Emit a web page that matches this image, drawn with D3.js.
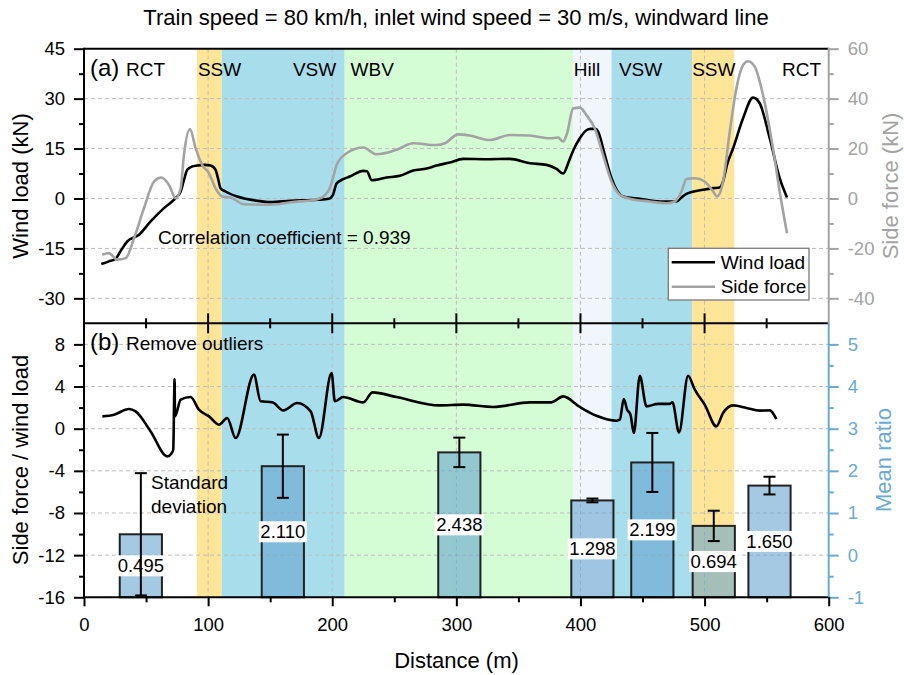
<!DOCTYPE html>
<html>
<head>
<meta charset="utf-8">
<script src="https://cdn.jsdelivr.net/npm/d3@7"></script>
<style>
  body { margin: 0; background: #fff; }
  svg { display: block; }
  text { font-family: "Liberation Sans", Arial, sans-serif; }
</style>
</head>
<body>
<svg id="chart" width="904" height="675"></svg>
<script>
// ---- Data ---------------------------------------------------------------
// Wind load along the line [distance (m), kN] (left axis, panel a)
const windLoad = [
  [13.9,-19.7],[20,-18.9],[25.5,-18.1],[30,-15.5],[34.9,-12.9],[44.3,-10.9],[53.7,-6.9],
  [64.4,-2.9],[73.8,0.1],[77.9,2.1],[80.5,5.5],[83.2,8.6],[87,9.6],[91.3,9.9],[97,10.1],
  [102,9.9],[106,8.6],[108,6],[110,3.1],[114,2.1],[123.5,0.6],[139.6,-0.7],[150.3,-1.1],
  [166.4,-0.7],[188,-0.4],[197.3,-0.1],[200.5,1.0],[203.5,4.5],[208.8,5.8],[214.2,6.6],
  [225,8.3],[228,8.2],[231.7,5.5],[243.8,6.3],[254.5,6.8],[265.2,8.4],[276,9],[284,9.9],
  [294.8,10.8],[305.5,11.9],[324.3,11.8],[343,11.9],[359.2,10.6],[372.6,10.1],[380.7,8.9],
  [386,7.5],[391,11.5],[394.6,14.8],[399.5,18.1],[404.8,20.5],[408,20.9],[412,20.9],[414.2,20.1],
  [419.6,13.1],[425,6.1],[434.4,0.6],[447.8,-0.1],[463.9,-0.9],[477.3,-0.9],[481.4,0.3],
  [485.4,1.4],[498.8,2.6],[506.9,3.1],[512.2,3.3],[514.9,5.1],[518,10],[523,15.1],[531,24.1],
  [539,30.3],[544.4,28.6],[552.5,18.1],[560.5,6.1],[566.4,0.3]
];

// Side force along the line [distance (m), kN] (right axis, panel a)
const sideForce = [
  [14.7,-22.5],[20.1,-21.9],[26.8,-24.5],[33.6,-23.9],[40.3,-15.9],[48.3,-3.9],[56.4,6.8],
  [62.3,8.4],[68.5,5.4],[73.8,0.1],[77.9,4.1],[80.5,17.4],[85.4,27.8],[90,20.1],[95.3,13.4],
  [100.7,10.1],[106,4.1],[111.4,0.8],[118.1,0.4],[128.9,-2.3],[150.3,-2.5],[166.4,-1.5],
  [188,-0.3],[194.6,1.5],[198,4.1],[201.3,9.4],[203.5,13.4],[211.6,18.1],[225,20.4],
  [235.7,17.7],[251.8,19.5],[265.2,22.1],[284,21.4],[290.7,22.1],[301.5,25.7],[310.9,25.2],
  [327,23.4],[343.1,25.4],[359.2,25.2],[375.3,24.1],[382,24.4],[386,22.8],[389.2,26.1],
  [394.1,36.1],[399.5,36.4],[404.8,33.4],[411.5,28.1],[418.2,17.4],[425,6.8],[431.7,1.5],
  [439.7,-0.1],[455.8,-1.2],[469.3,-1.9],[476,-1.2],[481.4,2.8],[485.4,7.8],[492.1,8.1],
  [500.1,6.8],[506.9,2.8],[510.1,0.8],[514.9,6.8],[520.3,26.8],[525.6,44.1],[531,53.4],
  [535,55.0],[540.4,52.8],[547.1,41.4],[555.1,20.1],[560.5,2.8],[566.4,-13.9]
];

// Side force / wind load with outliers removed (left axis, panel b)
const ratio = [
  [14.8,1.17],[24.2,1.33],[36.2,1.87],[41.6,1.64],[53.7,-0.26],[67.1,-2.63],[70.3,-2.37],
  [71.9,-2.0],[73,4.72],[73.3,1.17],[77.9,2.75],[85.9,3.0],[92.6,1.8],[100.7,1.17],
  [108.7,0.38],[115.4,1.01],[122.2,-0.89],[136.9,5.13],[142.3,2.6],[151.7,2.5],[160.5,1.74],
  [171.8,2.44],[182.6,1.64],[189.3,-0.89],[199.5,5.29],[202.1,2.6],[208.8,3.0],[225,2.5],
  [232.5,3.45],[251.8,3.0],[286.7,2.21],[305.5,2.28],[329.6,2.06],[359.2,2.5],[376.7,2.5],
  [386,3.07],[399.5,2.06],[412.9,1.23],[429,0.76],[431.7,0.85],[434.9,2.82],[437.6,1.8],
  [440.3,1.33],[443,-0.41],[447.8,5.03],[453.2,2.12],[462.5,2.35],[471.9,2.35],[474.1,2.5],
  [479.4,-0.35],[486.7,5.03],[492.1,3.7],[500.1,2.28],[509.5,0.22],[514.9,1.49],[523,2.21],
  [533.7,1.97],[544.4,1.71],[552.5,1.74],[557.8,0.92]
];

// Mean ratio per zone (right axis, panel b)
const barCenters = [45.8, 160.2, 302.4, 409.6, 457.9, 507.4, 552.3];
const barMeans   = [0.495, 2.110, 2.438, 1.298, 2.199, 0.694, 1.650];
const barSD      = [1.45, 0.75, 0.35, 0.045, 0.70, 0.36, 0.21];
const barWidth   = 34; // m

// Structural zones along the line
const zoneStart = [91, 111, 210, 394, 425, 490];
const zoneEnd   = [111, 210, 394, 425, 490, 524];
const zoneFill  = ["#fee598", "#a8deec", "#d5fdd5", "#f0f6fc", "#a8deec", "#fee598"];
const zoneLabels = ["RCT", "SSW", "VSW", "WBV", "Hill", "VSW", "SSW", "RCT"];
const zoneLabelAt = [33.8, 91.8, 168.3, 214.8, 394.6, 431, 490, 562.4];

// Ticks
const xMajor = [0, 100, 200, 300, 400, 500, 600];
const xMinor = [50, 150, 250, 350, 450, 550];
const windMajor = [-30, -15, 0, 15, 30, 45];
const windMinor = [-22.5, -7.5, 7.5, 22.5, 37.5];
const sideMajor = [-40, -20, 0, 20, 40, 60];
const sideMinor = [-30, -10, 10, 30, 50];
const ratioMajor = [-16, -12, -8, -4, 0, 4, 8];
const ratioMinor = [-14, -10, -6, -2, 2, 6];
const meanMajor = [-1, 0, 1, 2, 3, 4, 5];
const meanMinor = [-0.5, 0.5, 1.5, 2.5, 3.5, 4.5];

// ---- Layout -------------------------------------------------------------
const L = 84, R = 828.7, TOP = 48.7, MID = 323.3, BOT = 597.3;
const GRAY = "#a3a3a3", BLUE = "#6aaad4";
const svg = d3.select("#chart");

const x = d3.scaleLinear().domain([0, 600]).range([L, R]);
const yWind = d3.scaleLinear().domain([-37.5, 45]).range([MID, TOP]);
const ySide = d3.scaleLinear().domain([-50, 60]).range([MID, TOP]);
const yRatio = d3.scaleLinear().domain([-16, 10]).range([BOT, MID]);
const yMean = d3.scaleLinear().domain([-1, 5.5]).range([BOT, MID]);

// Zone backgrounds across both panels
svg.append("g").selectAll("rect").data(zoneStart).join("rect")
  .attr("x", (d) => x(d))
  .attr("width", (d, i) => x(zoneEnd[i]) - x(d))
  .attr("y", TOP).attr("height", BOT - TOP)
  .attr("fill", (d, i) => zoneFill[i]);

// Dashed grid
const grid = svg.append("g").attr("stroke", "#bdbdbd").attr("stroke-width", 1)
  .attr("stroke-dasharray", "4,3").attr("fill", "none");
xMajor.slice(1, -1).forEach(v => grid.append("line")
  .attr("x1", x(v)).attr("x2", x(v)).attr("y1", TOP).attr("y2", BOT));
windMajor.filter(v => v < 45).forEach(v => grid.append("line")
  .attr("x1", L).attr("x2", R).attr("y1", yWind(v)).attr("y2", yWind(v)));
ratioMajor.filter(v => v > -16).forEach(v => grid.append("line")
  .attr("x1", L).attr("x2", R).attr("y1", yRatio(v)).attr("y2", yRatio(v)));

// ---- Panel (b) bars -------------------------------------------------------
const bars = svg.append("g");
bars.selectAll("rect").data(barMeans).join("rect")
  .attr("x", (d, i) => x(barCenters[i] - barWidth / 2))
  .attr("width", x(barWidth) - x(0))
  .attr("y", (d) => yMean(d))
  .attr("height", (d) => yMean(-1) - yMean(d))
  .attr("fill", "rgb(100,162,207)").attr("fill-opacity", 0.58)
  .attr("stroke", "#222").attr("stroke-width", 2);

// value labels in the middle of each bar
const lbl = svg.append("g");
barMeans.forEach((v, i) => {
  const cx = x(barCenters[i]);
  const cy = yMean((v + -1) / 2);
  const t = lbl.append("text").attr("x", cx).attr("y", cy)
    .attr("text-anchor", "middle").attr("dy", "0.35em")
    .attr("font-size", 18.5).attr("fill", "#000").text(v.toFixed(3));
  const bb = t.node().getBBox();
  lbl.insert("rect", () => t.node())
    .attr("x", bb.x - 1.5).attr("y", cy - 10.5)
    .attr("width", bb.width + 3).attr("height", 21).attr("fill", "#fff");
});

// error bars
const err = svg.append("g").attr("stroke", "#000").attr("stroke-width", 2);
barMeans.forEach((v, i) => {
  const cx = x(barCenters[i]);
  const hi = yMean(v + barSD[i]), lo = yMean(v - barSD[i]);
  err.append("line").attr("x1", cx).attr("x2", cx).attr("y1", hi).attr("y2", lo);
  err.append("line").attr("x1", cx - 6).attr("x2", cx + 6).attr("y1", hi).attr("y2", hi);
  err.append("line").attr("x1", cx - 6).attr("x2", cx + 6).attr("y1", lo).attr("y2", lo);
});

// ---- Curves -------------------------------------------------------------
const curve = d3.curveMonotoneX;
svg.append("path").datum(windLoad)
  .attr("d", d3.line().x(d => x(d[0])).y(d => yWind(d[1])).curve(curve))
  .attr("fill", "none").attr("stroke", "#000").attr("stroke-width", 2.6);
svg.append("path").datum(sideForce)
  .attr("d", d3.line().x(d => x(d[0])).y(d => ySide(d[1])).curve(curve))
  .attr("fill", "none").attr("stroke", GRAY).attr("stroke-width", 2.6);
svg.append("path").datum(ratio)
  .attr("d", d3.line().x(d => x(d[0])).y(d => yRatio(d[1])).curve(curve))
  .attr("fill", "none").attr("stroke", "#000").attr("stroke-width", 2.6)
  .attr("stroke-linejoin", "round");

// ---- Axes ---------------------------------------------------------------
const fmt = d => String(d);
function styleAxis(g, color, size) {
  g.select(".domain").remove();
  g.selectAll("line").attr("stroke", color).attr("stroke-width", 2);
  g.selectAll("text").attr("fill", color).attr("font-size", size)
    .style("font-family", '"Liberation Sans", Arial, sans-serif');
}

// left axes
svg.append("g").attr("transform", `translate(${L},0)`)
  .call(d3.axisLeft(yWind).tickValues(windMajor).tickSize(10).tickPadding(9).tickFormat(fmt))
  .call(g => styleAxis(g, "#000", 18.5));
svg.append("g").attr("transform", `translate(${L},0)`)
  .call(d3.axisLeft(yWind).tickValues(windMinor).tickSize(5).tickFormat(""))
  .call(g => styleAxis(g, "#000", 18.5));
svg.append("g").attr("transform", `translate(${L},0)`)
  .call(d3.axisLeft(yRatio).tickValues(ratioMajor).tickSize(10).tickPadding(9).tickFormat(fmt))
  .call(g => styleAxis(g, "#000", 18.5));
svg.append("g").attr("transform", `translate(${L},0)`)
  .call(d3.axisLeft(yRatio).tickValues(ratioMinor).tickSize(5).tickFormat(""))
  .call(g => styleAxis(g, "#000", 18.5));

// right axes
svg.append("g").attr("transform", `translate(${R},0)`)
  .call(d3.axisRight(ySide).tickValues(sideMajor).tickSize(10).tickPadding(9).tickFormat(fmt))
  .call(g => styleAxis(g, GRAY, 18.5));
svg.append("g").attr("transform", `translate(${R},0)`)
  .call(d3.axisRight(ySide).tickValues(sideMinor).tickSize(5).tickFormat(""))
  .call(g => styleAxis(g, GRAY, 18.5));
svg.append("g").attr("transform", `translate(${R},0)`)
  .call(d3.axisRight(yMean).tickValues(meanMajor).tickSize(10).tickPadding(9).tickFormat(fmt))
  .call(g => styleAxis(g, BLUE, 18.5));
svg.append("g").attr("transform", `translate(${R},0)`)
  .call(d3.axisRight(yMean).tickValues(meanMinor).tickSize(5).tickFormat(""))
  .call(g => styleAxis(g, BLUE, 18.5));

// bottom axis
svg.append("g").attr("transform", `translate(0,${BOT})`)
  .call(d3.axisBottom(x).tickValues(xMajor).tickSize(9).tickPadding(12).tickFormat(fmt))
  .call(g => styleAxis(g, "#000", 18.5));
svg.append("g").attr("transform", `translate(0,${BOT})`)
  .call(d3.axisBottom(x).tickValues(xMinor).tickSize(5).tickFormat(""))
  .call(g => styleAxis(g, "#000", 18.5));

// ticks crossing the shared panel border
const midTicks = svg.append("g").attr("stroke", "#000").attr("stroke-width", 2);
xMajor.slice(1, -1).forEach(v => midTicks.append("line")
  .attr("x1", x(v)).attr("x2", x(v)).attr("y1", MID - 10).attr("y2", MID + 10));
xMinor.forEach(v => midTicks.append("line")
  .attr("x1", x(v)).attr("x2", x(v)).attr("y1", MID - 5).attr("y2", MID + 5));

// frame lines
const frame = svg.append("g").attr("stroke-width", 2).attr("fill", "none");
frame.append("line").attr("x1", L).attr("x2", R).attr("y1", TOP).attr("y2", TOP).attr("stroke", "#000");
frame.append("line").attr("x1", L).attr("x2", R).attr("y1", MID).attr("y2", MID).attr("stroke", "#000");
frame.append("line").attr("x1", L - 1).attr("x2", R + 1).attr("y1", BOT).attr("y2", BOT).attr("stroke", "#000");
frame.append("line").attr("x1", L).attr("x2", L).attr("y1", TOP - 1).attr("y2", BOT).attr("stroke", "#000");
frame.append("line").attr("x1", R).attr("x2", R).attr("y1", TOP - 1).attr("y2", MID).attr("stroke", GRAY);
frame.append("line").attr("x1", R).attr("x2", R).attr("y1", MID).attr("y2", BOT).attr("stroke", BLUE);

// ---- Text ---------------------------------------------------------------
const txt = (s, px, py, size, opts = {}) => {
  const t = svg.append("text").attr("x", px).attr("y", py).attr("font-size", size)
    .attr("fill", opts.fill || "#000").attr("text-anchor", opts.anchor || "start").text(s);
  if (opts.rotate) t.attr("transform", `rotate(-90,${px},${py})`);
  return t;
};

txt("Train speed = 80 km/h, inlet wind speed = 30 m/s, windward line", 456, 25, 22, { anchor: "middle" });

zoneLabels.forEach((s, i) => txt(s, x(zoneLabelAt[i]), 76, 19));
txt("(a)", 90, 76, 24);
txt("(b)", 90, 350, 24);
txt("Remove outliers", 126, 350, 19);
txt("Correlation coefficient = 0.939", 158, 244, 19);
txt("Standard", 151, 489, 19);
txt("deviation", 151, 512.7, 19);

txt("Wind load (kN)", 28, 186, 22, { anchor: "middle", rotate: true });
txt("Side force / wind load", 28, 460, 22, { anchor: "middle", rotate: true });
txt("Side force (kN)", 897.5, 186, 22, { anchor: "middle", rotate: true, fill: GRAY });
txt("Mean ratio", 891, 460, 22, { anchor: "middle", rotate: true, fill: BLUE });
txt("Distance (m)", 456.5, 668, 22, { anchor: "middle" });

// ---- Legend -------------------------------------------------------------
const lg = svg.append("g");
lg.append("rect").attr("x", 668.3).attr("y", 248.3).attr("width", 140.7).attr("height", 51.7)
  .attr("fill", "#fff").attr("stroke", "#7a7a7a").attr("stroke-width", 1.3);
lg.append("line").attr("x1", 671.7).attr("x2", 715).attr("y1", 262.3).attr("y2", 262.3)
  .attr("stroke", "#000").attr("stroke-width", 2.6);
lg.append("line").attr("x1", 671.7).attr("x2", 715).attr("y1", 286.7).attr("y2", 286.7)
  .attr("stroke", GRAY).attr("stroke-width", 2.6);
lg.append("text").attr("x", 720.7).attr("y", 269).attr("font-size", 19).text("Wind load");
lg.append("text").attr("x", 720.7).attr("y", 293).attr("font-size", 19).text("Side force");
</script>
</body>
</html>
